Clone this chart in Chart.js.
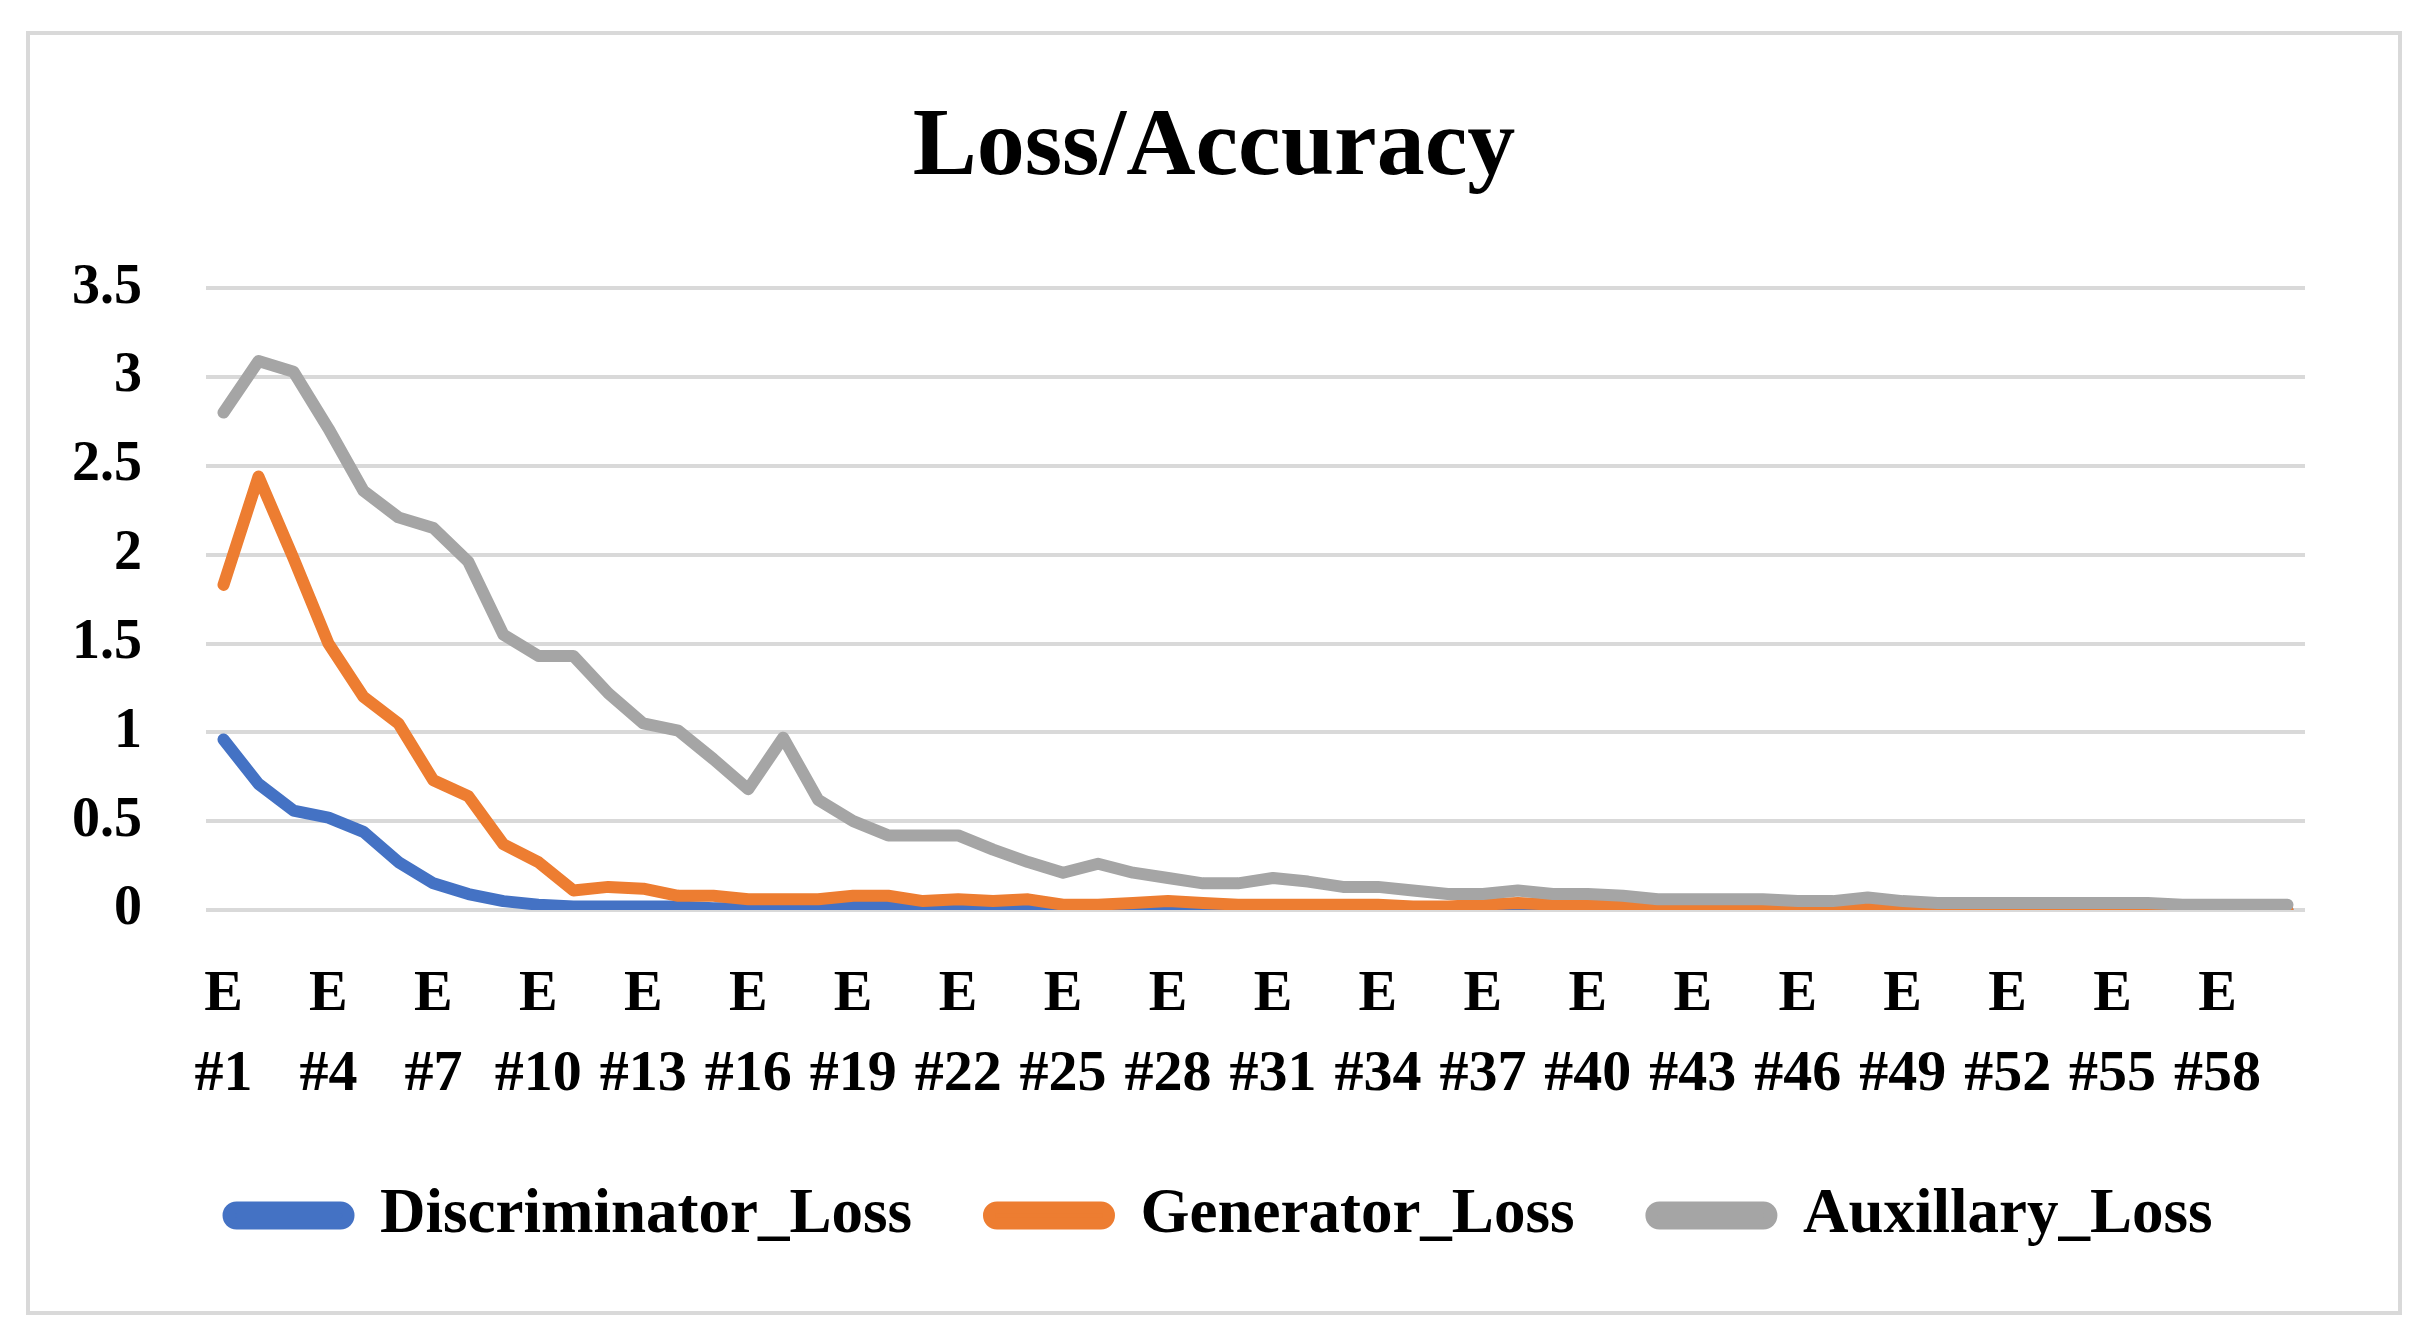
<!DOCTYPE html>
<html>
<head>
<meta charset="utf-8">
<script src="https://cdn.jsdelivr.net/npm/chart.js@4"></script>
<style>
    html, body { margin: 0; padding: 0; background: #fff; }
    #frame {
        position: absolute;
        left: 26px;
        top: 31px;
        width: 2376px;
        height: 1284px;
        border: 4px solid #d9d9d9;
        box-sizing: border-box;
        background: #fff;
    }
</style>
</head>
<body>
<div id="frame"><canvas id="chart1"></canvas></div>
<script>
// Epoch categories (x axis)
const epochs = [
    'E #1', 'E #2', 'E #3', 'E #4', 'E #5', 'E #6', 'E #7', 'E #8', 'E #9', 'E #10',
    'E #11', 'E #12', 'E #13', 'E #14', 'E #15', 'E #16', 'E #17', 'E #18', 'E #19', 'E #20',
    'E #21', 'E #22', 'E #23', 'E #24', 'E #25', 'E #26', 'E #27', 'E #28', 'E #29', 'E #30',
    'E #31', 'E #32', 'E #33', 'E #34', 'E #35', 'E #36', 'E #37', 'E #38', 'E #39', 'E #40',
    'E #41', 'E #42', 'E #43', 'E #44', 'E #45', 'E #46', 'E #47', 'E #48', 'E #49', 'E #50',
    'E #51', 'E #52', 'E #53', 'E #54', 'E #55', 'E #56', 'E #57', 'E #58', 'E #59', 'E #60'
];

// Values
const discriminatorLoss = [
    0.96, 0.71, 0.56, 0.52, 0.44, 0.27, 0.15, 0.09, 0.05, 0.03,
    0.02, 0.02, 0.02, 0.02, 0.01, 0.01, 0.01, 0.01, 0.02, 0.02,
    0.01, 0.01, 0.01, 0.01, 0.01, 0.01, 0.01, 0.01, 0.01, 0.01,
    0.01, 0.01, 0.01, 0.01, 0.01, 0.01, 0.01, 0.01, 0.01, 0.01,
    0.01, 0.01, 0.01, 0.01, 0.01, 0.01, 0.01, 0.01, 0.01, 0.01,
    0.0, 0.0, 0.0, 0.0, 0.0, 0.0, 0.0, 0.0, 0.0, 0.0
];
const generatorLoss = [
    1.83, 2.44, 1.98, 1.50, 1.20, 1.05, 0.73, 0.64, 0.37, 0.27,
    0.11, 0.13, 0.12, 0.08, 0.08, 0.06, 0.06, 0.06, 0.08, 0.08,
    0.05, 0.06, 0.05, 0.06, 0.03, 0.03, 0.04, 0.05, 0.04, 0.03,
    0.03, 0.03, 0.03, 0.03, 0.02, 0.02, 0.03, 0.04, 0.03, 0.03,
    0.03, 0.02, 0.02, 0.02, 0.02, 0.02, 0.02, 0.03, 0.02, 0.01,
    0.01, 0.01, 0.01, 0.01, 0.01, 0.01, 0.0, 0.0, 0.0, 0.0
];
const auxillaryLoss = [
    2.80, 3.09, 3.03, 2.71, 2.36, 2.21, 2.15, 1.96, 1.55, 1.43,
    1.43, 1.22, 1.05, 1.01, 0.85, 0.68, 0.97, 0.62, 0.50, 0.42,
    0.42, 0.42, 0.34, 0.27, 0.21, 0.26, 0.21, 0.18, 0.15, 0.15,
    0.18, 0.16, 0.13, 0.13, 0.11, 0.09, 0.09, 0.11, 0.09, 0.09,
    0.08, 0.06, 0.06, 0.06, 0.06, 0.05, 0.05, 0.07, 0.05, 0.04,
    0.04, 0.04, 0.04, 0.04, 0.04, 0.04, 0.03, 0.03, 0.03, 0.03
];
const yTicks = [0, 0.5, 1, 1.5, 2, 2.5, 3, 3.5];

const FONT = "'Liberation Serif', 'DejaVu Serif', serif";

function makeSeries(label, data, color, order) {
    return {
        label: label,
        data: data,
        order: order,
        borderColor: color,
        backgroundColor: color,
        borderWidth: 12,
        borderJoinStyle: 'round',
        borderCapStyle: 'round',
        pointRadius: 0,
        tension: 0
    };
}

// Small layout nudges: let the x labels draw past the axis box,
// and centre title/legend the way the original does
const nudgeLayout = {
    id: 'nudgeLayout',
    afterLayout: function (chart) {
        chart.scales.x.bottom += 60;
        chart.titleBlock.left += 51;
        chart.legend.left += 64;
    }
};

const ctx = document.getElementById('chart1').getContext('2d');
window.chart1 = new Chart(ctx, {
    type: 'line',
    data: {
        labels: epochs,
        datasets: [
            makeSeries('Discriminator_Loss', discriminatorLoss, '#4472C4', 3),
            makeSeries('Generator_Loss', generatorLoss, '#ED7D31', 2),
            makeSeries('Auxillary_Loss', auxillaryLoss, '#A5A5A5', 1)
        ]
    },
    plugins: [nudgeLayout],
    options: {
        responsive: true,
        maintainAspectRatio: false,
        animation: false,
        layout: {
            padding: { left: 42, right: 93, top: 0, bottom: 54 }
        },
        plugins: {
            title: {
                display: true,
                text: 'Loss/Accuracy',
                color: '#000',
                font: { family: FONT, size: 96, weight: 'bold' },
                padding: { top: 57, bottom: 81 }
            },
            legend: {
                position: 'bottom',
                labels: {
                    color: '#000',
                    font: { family: FONT, size: 63, weight: 'bold' },
                    boxWidth: 120,
                    boxHeight: 16,
                    useBorderRadius: true,
                    borderRadius: 8,
                    padding: 77,
                    sort: function (a, b) { return a.datasetIndex - b.datasetIndex; }
                }
            },
            tooltip: { enabled: false }
        },
        scales: {
            x: {
                offset: true,
                grid: { display: false },
                border: { display: false },
                afterFit: function (scale) {
                    scale.paddingLeft = 0;
                    scale.paddingRight = 0;
                    scale.height = 197;
                },
                ticks: {
                    autoSkip: false,
                    maxRotation: 0,
                    minRotation: 0,
                    padding: 37,
                    color: '#000',
                    font: { family: FONT, size: 58, weight: 'bold', lineHeight: 1.38 },
                    callback: function (value, index) {
                        return index % 3 === 0 ? epochs[index].split(' ') : null;
                    }
                }
            },
            y: {
                min: 0,
                max: 3.5,
                afterBuildTicks: function (axis) {
                    axis.ticks = yTicks.map(function (v) { return { value: v }; });
                },
                afterFit: function (scale) {
                    // Chart.js reserves the tick padding twice; keep it once
                    scale.width -= 64;
                },
                grid: { color: '#d9d9d9', lineWidth: 4, drawTicks: false },
                border: { display: false },
                ticks: {
                    padding: 64,
                    color: '#000',
                    font: { family: FONT, size: 56, weight: 'bold' },
                    callback: function (value) { return String(value); }
                }
            }
        }
    }
});
</script>
</body>
</html>
